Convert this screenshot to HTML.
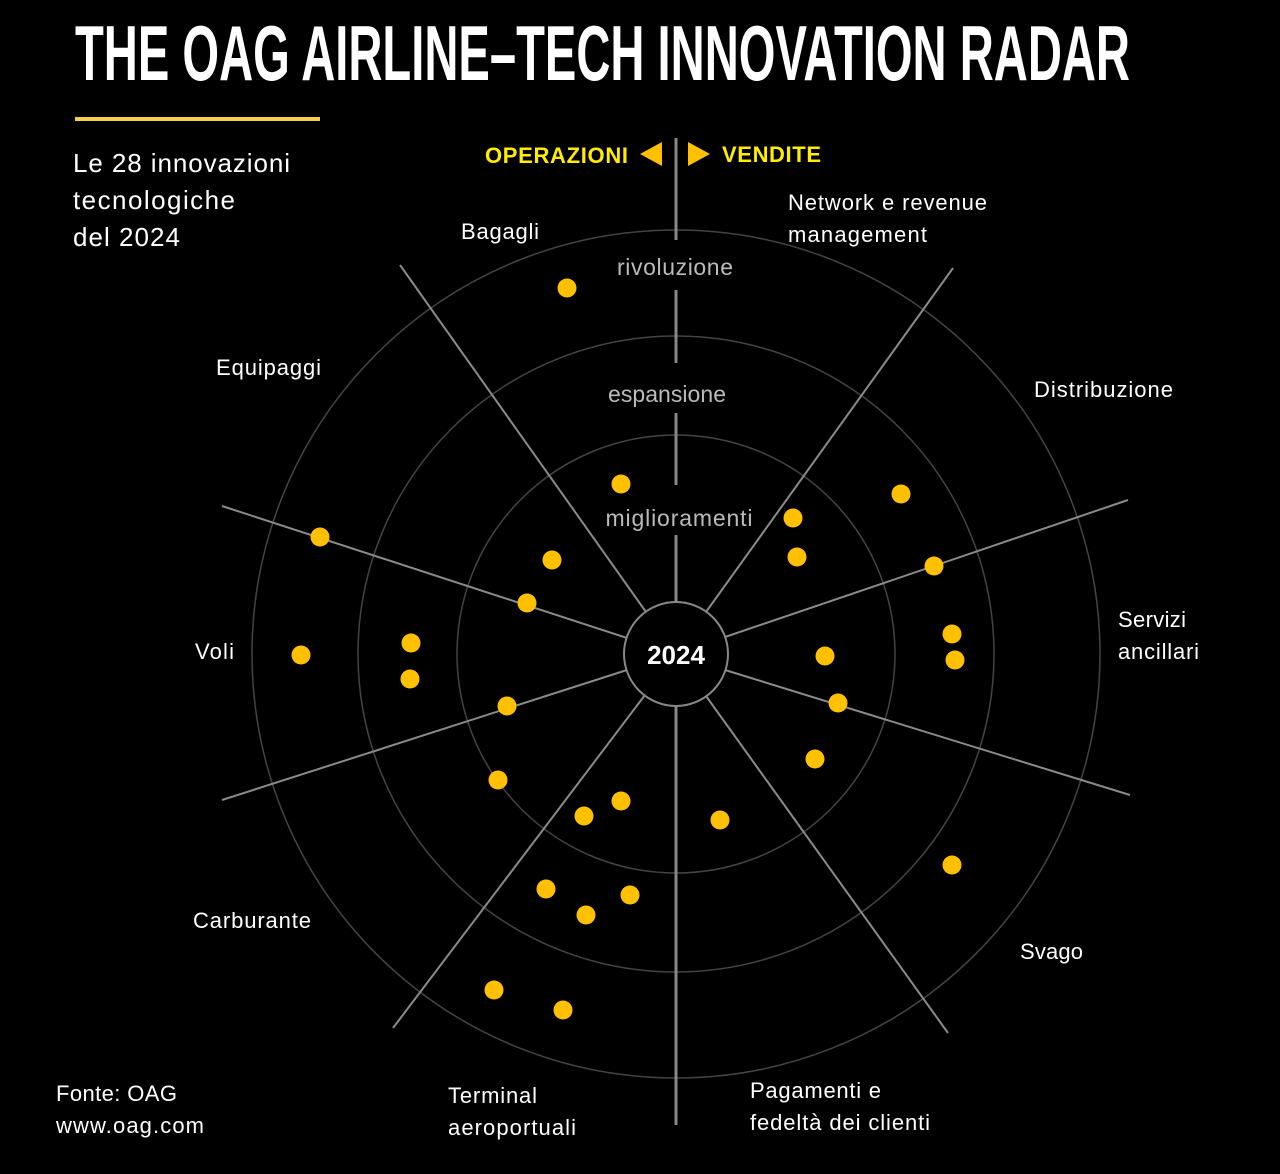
<!DOCTYPE html>
<html><head><meta charset="utf-8"><style>
html,body{margin:0;padding:0;background:#000;}
svg{display:block;}
text{font-family:"Liberation Sans",sans-serif;}
</style></head><body>
<svg width="1280" height="1174" viewBox="0 0 1280 1174" xmlns="http://www.w3.org/2000/svg">
<rect width="1280" height="1174" fill="#000"/>
<text x="75" y="80" font-family="Liberation Sans Narrow, Liberation Sans, sans-serif" font-weight="bold" font-size="78" fill="#fff" textLength="1055" lengthAdjust="spacingAndGlyphs">THE OAG AIRLINE–TECH INNOVATION RADAR</text>
<rect x="75" y="117" width="245" height="4" fill="#f2d04a"/>
<g fill="#fff" font-size="26">
<text x="73" y="172" textLength="217">Le 28 innovazioni</text>
<text x="73" y="209" textLength="162">tecnologiche</text>
<text x="73" y="246" textLength="107">del 2024</text>
</g>
<g fill="none" stroke="#444" stroke-width="1.5">
<circle cx="676" cy="654" r="424"/>
<circle cx="676" cy="654" r="318"/>
<circle cx="676" cy="654" r="219"/>
</g>
<g stroke="#8a8a8a" stroke-width="2">
<line x1="646" y1="612" x2="400" y2="265"/>
<line x1="706" y1="612" x2="953" y2="268"/>
<line x1="725" y1="637" x2="1128" y2="500"/>
<line x1="725" y1="670" x2="1130" y2="795"/>
<line x1="706" y1="696" x2="948" y2="1033"/>
<line x1="645" y1="695" x2="393" y2="1028"/>
<line x1="627" y1="670" x2="222" y2="800"/>
<line x1="627" y1="638" x2="222" y2="506"/>
</g>
<g stroke="#888" stroke-width="3">
<line x1="676" y1="138" x2="676" y2="240"/>
<line x1="676" y1="290" x2="676" y2="363"/>
<line x1="676" y1="413" x2="676" y2="485"/>
<line x1="676" y1="535" x2="676" y2="602"/>
<line x1="676" y1="706" x2="676" y2="1125"/>
</g>
<circle cx="676" cy="654" r="52" fill="#000" stroke="#888" stroke-width="2"/>
<text x="676" y="664" text-anchor="middle" fill="#fff" font-size="26" font-weight="bold">2024</text>
<g fill="#bbb" font-size="23" text-anchor="middle">
<text x="675" y="275" textLength="116">rivoluzione</text>
<text x="667" y="402" textLength="118">espansione</text>
<text x="679" y="526" textLength="147">miglioramenti</text>
</g>
<g fill="#ffed00" font-size="22" font-weight="bold">
<text x="485" y="163" textLength="143">OPERAZIONI</text>
<text x="722" y="162" textLength="99">VENDITE</text>
</g>
<polygon points="662,142 662,166 640,154" fill="#ffc000"/>
<polygon points="688,142 688,166 710,154" fill="#ffc000"/>
<g fill="#fff" font-size="22">
<text x="461" y="239" textLength="78">Bagagli</text>
<text x="788" y="210" textLength="199">Network e revenue</text>
<text x="788" y="242" textLength="139">management</text>
<text x="216" y="375" textLength="105">Equipaggi</text>
<text x="1034" y="397" textLength="139">Distribuzione</text>
<text x="1118" y="627" textLength="68">Servizi</text>
<text x="1118" y="659" textLength="81">ancillari</text>
<text x="195" y="659" textLength="39">Voli</text>
<text x="193" y="928" textLength="118">Carburante</text>
<text x="1020" y="959" textLength="63">Svago</text>
<text x="448" y="1103" textLength="89">Terminal</text>
<text x="448" y="1135" textLength="128">aeroportuali</text>
<text x="750" y="1098" textLength="131">Pagamenti e</text>
<text x="750" y="1130" textLength="180">fedeltà dei clienti</text>
<text x="56" y="1101" textLength="121">Fonte: OAG</text>
<text x="56" y="1133" textLength="148">www.oag.com</text>
</g>
<g fill="#ffc000">
<circle cx="567" cy="288" r="9.5"/>
<circle cx="621" cy="484" r="9.5"/>
<circle cx="320" cy="537" r="9.5"/>
<circle cx="552" cy="560" r="9.5"/>
<circle cx="527" cy="603" r="9.5"/>
<circle cx="301" cy="655" r="9.5"/>
<circle cx="411" cy="643" r="9.5"/>
<circle cx="410" cy="679" r="9.5"/>
<circle cx="507" cy="706" r="9.5"/>
<circle cx="498" cy="780" r="9.5"/>
<circle cx="584" cy="816" r="9.5"/>
<circle cx="621" cy="801" r="9.5"/>
<circle cx="546" cy="889" r="9.5"/>
<circle cx="586" cy="915" r="9.5"/>
<circle cx="630" cy="895" r="9.5"/>
<circle cx="494" cy="990" r="9.5"/>
<circle cx="563" cy="1010" r="9.5"/>
<circle cx="720" cy="820" r="9.5"/>
<circle cx="793" cy="518" r="9.5"/>
<circle cx="797" cy="557" r="9.5"/>
<circle cx="901" cy="494" r="9.5"/>
<circle cx="934" cy="566" r="9.5"/>
<circle cx="952" cy="634" r="9.5"/>
<circle cx="955" cy="660" r="9.5"/>
<circle cx="825" cy="656" r="9.5"/>
<circle cx="838" cy="703" r="9.5"/>
<circle cx="815" cy="759" r="9.5"/>
<circle cx="952" cy="865" r="9.5"/>
</g>
</svg>
</body></html>
